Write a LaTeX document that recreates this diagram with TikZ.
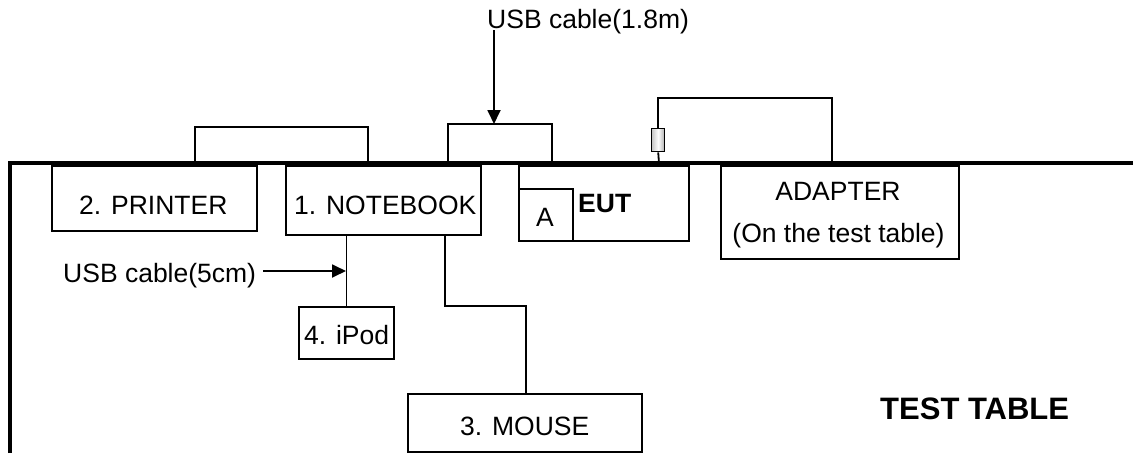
\documentclass[tikz,border=0pt]{standalone}
\usepackage{fontspec}
\setmainfont{Liberation Sans}
\usetikzlibrary{arrows.meta}
\tikzset{
  box/.style={draw, line width=1.8pt, inner sep=0pt, anchor=north west},
  cable/.style={line width=1.8pt},
  arr/.style={line width=1.8pt, -{Triangle[length=14pt,width=13pt]}},
  txt/.style={inner sep=0pt, anchor=base west, font=\fontsize{26.5}{30}\selectfont},
  ctxt/.style={txt, anchor=base},
  btxt/.style={txt, font=\fontsize{26.5}{30}\selectfont\bfseries},
  tabletop/.style={line width=4pt},
}
\begin{document}
\begin{tikzpicture}[x=1pt, y=-1pt]
\useasboundingbox (0,0) rectangle (1133,453);

% boxes
\node[box, minimum width=205pt, minimum height=65pt] (printer) at (51,165) {};
\node[box, minimum width=195pt, minimum height=69pt] (nb) at (285,165) {};
\node[box, minimum width=170pt, minimum height=75pt] (eut) at (518,165) {};
\node[box, fill=white, minimum width=54pt, minimum height=52pt] (abox) at (518,188) {};
\node[box, minimum width=238pt, minimum height=93pt] (adapter) at (720,165) {};
\node[box, minimum width=95pt, minimum height=52pt] (ipod) at (298,306) {};
\node[box, minimum width=234pt, minimum height=58pt] (mouse) at (407,393) {};
\node[box, line width=1.4pt, left color=gray!45, right color=gray!65, middle color=white,
      minimum width=13pt, minimum height=23pt] (plug) at (651,128) {};

% texts
\node[txt] (t18) at (487,28) {USB cable(1.8m)};
\node[txt] (t5) at (63,282) {USB cable(5cm)};
\node[txt] (tprinter) at (79,214) {2. PRINTER};
\node[txt] (tnb) at (294,214) {1. NOTEBOOK};
\node[ctxt] (ta) at (545,226) {A};
\node[btxt] (teut) at (578,212) {EUT};
\node[ctxt] (tad1) at (838,200) {ADAPTER};
\node[ctxt] (tad2) at (838.5,242) {(On the test table)};
\node[txt] (tipod) at (304,344) {4. iPod};
\node[txt] (tmouse) at (460,435) {3. MOUSE};
\node[txt, font=\fontsize{31}{34}\selectfont\bfseries] (ttable) at (880,419) {TEST TABLE};

% cable anchor points on the table edge
\coordinate (p1) at (195,163);
\coordinate (p2) at (368,163);
\coordinate (u1) at (448,163);
\coordinate (u2) at (552,163);
\coordinate (a1) at (659,163);
\coordinate (a2) at (832,163);
\coordinate (a3) at (832,98);
\coordinate (arrtop) at (494,30);
\coordinate (arrtip) at (494,124);
\coordinate (m1) at (526,306);
\coordinate (arr5s) at (263,271);
\coordinate (arr5e) at (346,271);

% cables
\draw[cable] (p1) |- (368,127) -- (p2);
\draw[cable] (u1) |- (u2 |- arrtip) -- (u2);
\draw[cable] (a1) -- (plug.south);
\draw[cable] (plug.north) |- (a3) -- (a2);
\draw[cable] (ipod.north |- nb.south) -- (ipod.north);
\draw[cable] (445,0 |- nb.south) |- (m1) -- (m1 |- mouse.north);

% arrows
\draw[arr] (arrtop) -- (arrtip);
\draw[arr] (arr5s) -- (arr5e);

% table edge
\draw[tabletop] (10,453) -- (10,163) -- (1133,163);
\end{tikzpicture}
\end{document}
